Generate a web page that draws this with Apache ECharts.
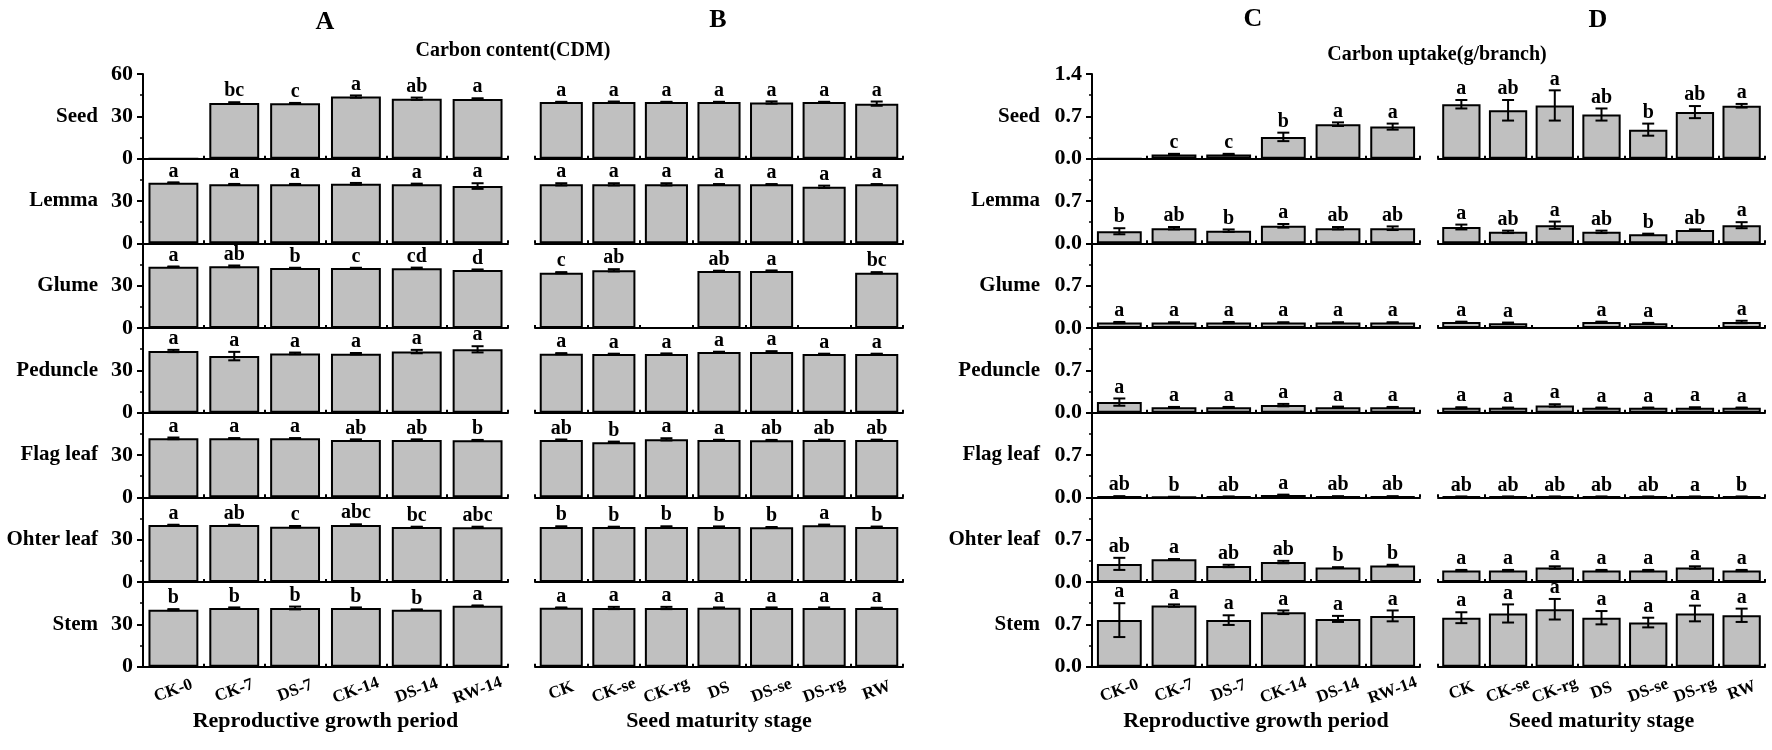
<!DOCTYPE html>
<html>
<head>
<meta charset="utf-8">
<script src="https://cdn.jsdelivr.net/npm/echarts@6/dist/echarts.min.js"></script>
<style>
html,body{margin:0;padding:0;background:#fff;}
#chart{width:1772px;height:750px;}
</style>
</head>
<body>
<div id="chart"></div>
<script>
// ---------------- data ----------------
const organs = ['Seed', 'Lemma', 'Glume', 'Peduncle', 'Flag leaf', 'Ohter leaf', 'Stem'];
const periodCats = ['CK-0', 'CK-7', 'DS-7', 'CK-14', 'DS-14', 'RW-14'];
const stageCats = ['CK', 'CK-se', 'CK-rg', 'DS', 'DS-se', 'DS-rg', 'RW'];
const contentTicks = [0, 30, 60];
const uptakeTicks = [0, 0.7, 1.4];

// A: carbon content, reproductive growth period
const contentPeriodMean = [
  [0, 39.5, 39.2, 44.0, 42.5, 42.3],
  [43.0, 41.8, 41.8, 42.2, 41.8, 40.6],
  [43.4, 43.7, 42.5, 42.5, 42.3, 41.1],
  [43.7, 40.1, 42.0, 41.8, 43.3, 44.9],
  [41.8, 41.8, 41.8, 40.7, 40.7, 40.5],
  [40.4, 40.4, 39.2, 40.4, 39.0, 38.8],
  [40.4, 41.6, 41.6, 41.6, 40.4, 43.2]
];
const contentPeriodErr = [
  [0, 0.5, 0.3, 0.8, 0.8, 0.5],
  [0.2, 0.3, 0.3, 0.6, 0.5, 2.0],
  [0.2, 0.6, 0.2, 0.2, 0.5, 0.4],
  [0.8, 3.0, 0.6, 0.5, 1.2, 2.2],
  [0.6, 0.2, 0.2, 0.4, 0.4, 0.2],
  [0.2, 0.2, 0.5, 0.5, 0.2, 0.4],
  [0.4, 0.4, 1.0, 0.4, 0.2, 0.2]
];
const contentPeriodLetters = [
  ['', 'bc', 'c', 'a', 'ab', 'a'],
  ['a', 'a', 'a', 'a', 'a', 'a'],
  ['a', 'ab', 'b', 'c', 'cd', 'd'],
  ['a', 'a', 'a', 'a', 'a', 'a'],
  ['a', 'a', 'a', 'ab', 'ab', 'b'],
  ['a', 'ab', 'c', 'abc', 'bc', 'abc'],
  ['b', 'b', 'b', 'b', 'b', 'a']
];

// B: carbon content, seed maturity stage
const contentStageMean = [
  [40.1, 40.1, 40.1, 40.1, 39.8, 40.1, 39.0],
  [41.8, 41.8, 41.8, 41.8, 41.8, 40.1, 41.8],
  [39.2, 40.9, 0, 40.4, 40.4, 0, 39.2],
  [41.8, 41.6, 41.6, 43.0, 43.0, 41.6, 41.6],
  [40.6, 39.0, 41.1, 40.6, 40.4, 40.6, 40.6],
  [39.0, 39.0, 39.0, 39.0, 38.8, 40.2, 39.0],
  [41.8, 41.6, 41.6, 41.8, 41.6, 41.6, 41.6]
];
const contentStageErr = [
  [0.2, 0.4, 0.2, 0.2, 0.8, 0.2, 1.5],
  [0.8, 0.8, 0.8, 0.2, 0.2, 0.8, 0.2],
  [0.4, 0.8, 0, 0.2, 0.4, 0, 0.4],
  [0.4, 0.2, 0.4, 0.2, 0.6, 0.2, 0.2],
  [0.4, 0.5, 0.8, 0.2, 0.3, 0.3, 0.3],
  [0.5, 0.2, 0.5, 0.4, 0.2, 0.5, 0.3],
  [0.2, 0.8, 0.8, 0.2, 0.4, 0.4, 0.2]
];
const contentStageLetters = [
  ['a', 'a', 'a', 'a', 'a', 'a', 'a'],
  ['a', 'a', 'a', 'a', 'a', 'a', 'a'],
  ['c', 'ab', '', 'ab', 'a', '', 'bc'],
  ['a', 'a', 'a', 'a', 'a', 'a', 'a'],
  ['ab', 'b', 'a', 'a', 'ab', 'ab', 'ab'],
  ['b', 'b', 'b', 'b', 'b', 'a', 'b'],
  ['a', 'a', 'a', 'a', 'a', 'a', 'a']
];

// C: carbon uptake, reproductive growth period
const uptakePeriodMean = [
  [0, 0.07, 0.07, 0.36, 0.57, 0.53],
  [0.20, 0.25, 0.21, 0.29, 0.25, 0.25],
  [0.09, 0.09, 0.09, 0.09, 0.09, 0.09],
  [0.175, 0.09, 0.09, 0.125, 0.09, 0.09],
  [0.01, 0.005, 0.01, 0.04, 0.01, 0.01],
  [0.30, 0.375, 0.265, 0.33, 0.24, 0.275],
  [0.77, 1.01, 0.77, 0.90, 0.79, 0.84]
];
const uptakePeriodErr = [
  [0, 0.01, 0.01, 0.07, 0.03, 0.05],
  [0.05, 0.02, 0.02, 0.03, 0.02, 0.03],
  [0.01, 0.005, 0.01, 0.005, 0.005, 0.005],
  [0.06, 0.005, 0.005, 0.02, 0.01, 0.005],
  [0.01, 0.005, 0.005, 0.005, 0.01, 0.01],
  [0.1, 0.005, 0.02, 0.02, 0.005, 0.01],
  [0.28, 0.02, 0.08, 0.03, 0.05, 0.09]
];
const uptakePeriodLetters = [
  ['', 'c', 'c', 'b', 'a', 'a'],
  ['b', 'ab', 'b', 'a', 'ab', 'ab'],
  ['a', 'a', 'a', 'a', 'a', 'a'],
  ['a', 'a', 'a', 'a', 'a', 'a'],
  ['ab', 'b', 'ab', 'a', 'ab', 'ab'],
  ['ab', 'a', 'ab', 'ab', 'b', 'b'],
  ['a', 'a', 'a', 'a', 'a', 'a']
];

// D: carbon uptake, seed maturity stage
const uptakeStageMean = [
  [0.90, 0.80, 0.88, 0.73, 0.48, 0.77, 0.875],
  [0.27, 0.19, 0.30, 0.19, 0.15, 0.22, 0.30],
  [0.10, 0.08, 0, 0.10, 0.08, 0, 0.10],
  [0.08, 0.08, 0.12, 0.08, 0.08, 0.08, 0.08],
  [0.01, 0.01, 0.01, 0.01, 0.01, 0.01, 0.01],
  [0.19, 0.19, 0.24, 0.19, 0.19, 0.24, 0.19],
  [0.81, 0.88, 0.95, 0.81, 0.73, 0.88, 0.85]
];
const uptakeStageErr = [
  [0.07, 0.17, 0.25, 0.1, 0.1, 0.1, 0.03],
  [0.04, 0.02, 0.06, 0.02, 0.01, 0.01, 0.05],
  [0.005, 0.01, 0, 0.005, 0.005, 0, 0.02],
  [0.01, 0.005, 0.02, 0.005, 0.005, 0.01, 0.005],
  [0.005, 0.005, 0.005, 0.005, 0.005, 0.005, 0.005],
  [0.01, 0.01, 0.02, 0.01, 0.01, 0.02, 0.01],
  [0.09, 0.15, 0.17, 0.11, 0.08, 0.13, 0.11]
];
const uptakeStageLetters = [
  ['a', 'ab', 'a', 'ab', 'b', 'ab', 'a'],
  ['a', 'ab', 'a', 'ab', 'b', 'ab', 'a'],
  ['a', 'a', '', 'a', 'a', '', 'a'],
  ['a', 'a', 'a', 'a', 'a', 'a', 'a'],
  ['ab', 'ab', 'ab', 'ab', 'ab', 'a', 'b'],
  ['a', 'a', 'a', 'a', 'a', 'a', 'a'],
  ['a', 'a', 'a', 'a', 'a', 'a', 'a']
];

// ---------------- layout ----------------
const FONT = '"Liberation Serif", "Times New Roman", serif';
const panels = [
  { left: 143, width: 365, cats: periodCats, mean: contentPeriodMean, err: contentPeriodErr, letters: contentPeriodLetters, ticks: contentTicks, showY: true, dec: 0, nameGap: 45, namePad: 22, xName: 'Reproductive growth period' },
  { left: 535, width: 368, cats: stageCats, mean: contentStageMean, err: contentStageErr, letters: contentStageLetters, ticks: contentTicks, showY: false, dec: 0, xName: 'Seed maturity stage' },
  { left: 1092, width: 328, cats: periodCats, mean: uptakePeriodMean, err: uptakePeriodErr, letters: uptakePeriodLetters, ticks: uptakeTicks, showY: true, dec: 1, nameGap: 52, namePad: 0, xName: 'Reproductive growth period' },
  { left: 1438, width: 327, cats: stageCats, mean: uptakeStageMean, err: uptakeStageErr, letters: uptakeStageLetters, ticks: uptakeTicks, showY: false, dec: 1, xName: 'Seed maturity stage' }
];
const ROW_TOP = 74, ROW_H = 84.67;

const grids = [], xAxes = [], yAxes = [], series = [];

function makeRender(letters) {
  return function (params, api) {
    const i = params.dataIndex;
    const m = api.value(1), e = api.value(2);
    const hi = api.coord([api.value(0), m + e]);
    const lo = api.coord([api.value(0), m - e]);
    const cx = hi[0];
    const cap = 6;
    const children = [];
    if (m > 0 && e > 0) {
      const ls = { stroke: '#000', lineWidth: 2 };
      children.push({ type: 'line', shape: { x1: cx, y1: hi[1], x2: cx, y2: lo[1] }, style: ls });
      children.push({ type: 'line', shape: { x1: cx - cap, y1: hi[1], x2: cx + cap, y2: hi[1] }, style: ls });
      children.push({ type: 'line', shape: { x1: cx - cap, y1: lo[1], x2: cx + cap, y2: lo[1] }, style: ls });
    }
    if (letters[i]) {
      children.push({
        type: 'text',
        style: { text: letters[i], x: cx, y: hi[1] - 1, align: 'center', verticalAlign: 'bottom',
                 font: 'bold 20px ' + FONT, fill: '#000' }
      });
    }
    return { type: 'group', children: children };
  };
}

panels.forEach(function (p, pi) {
  const yMax = p.ticks[p.ticks.length - 1];
  const yInt = p.ticks[1] - p.ticks[0];
  organs.forEach(function (org, r) {
    const idx = pi * organs.length + r;
    const last = r === organs.length - 1;
    grids.push({ left: p.left, width: p.width, top: ROW_TOP + r * ROW_H, height: ROW_H, outerBoundsMode: 'none' });
    xAxes.push({
      type: 'category', gridIndex: idx, data: p.cats,
      axisLine: { show: true, onZero: false, lineStyle: { color: '#000', width: 2 } },
      axisTick: { show: true, inside: true, length: 3, lineStyle: { color: '#000', width: 2 } },
      axisLabel: { show: last, interval: 0, rotate: 20, align: 'center', verticalAlign: 'middle', margin: 24,
                   color: '#000', fontFamily: FONT, fontWeight: 'bold', fontSize: 17 },
      name: last ? p.xName : '', nameLocation: 'middle', nameGap: 44,
      nameTextStyle: { color: '#000', fontFamily: FONT, fontWeight: 'bold', fontSize: 22 },
      splitLine: { show: false }
    });
    yAxes.push({
      type: 'value', gridIndex: idx, min: p.ticks[0], max: yMax, interval: yInt,
      show: p.showY,
      axisLine: { show: true, lineStyle: { color: '#000', width: 2 } },
      axisTick: { show: true, length: 6, lineStyle: { color: '#000', width: 2 } },
      minorTick: { show: true, splitNumber: 2, length: 3, lineStyle: { color: '#000', width: 1.5 } },
      splitLine: { show: false },
      minorSplitLine: { show: false },
      axisLabel: {
        color: '#000', fontFamily: FONT, fontWeight: 'bold', fontSize: 22, margin: 10,
        showMaxLabel: true,
        formatter: (function (row, mx, dec) {
          return function (v) {
            if (row > 0 && Math.abs(v - mx) < 1e-9) return '';
            return v.toFixed(dec);
          };
        })(r, yMax, p.dec)
      },
      name: p.showY ? org : '', nameLocation: 'middle', nameRotate: 0, nameGap: p.nameGap || 45,
      nameTextStyle: { color: '#000', fontFamily: FONT, fontWeight: 'bold', fontSize: 21,
                       align: 'right', verticalAlign: 'middle', padding: [0, 0, p.namePad || 0, 0] }
    });
    series.push({
      type: 'bar', xAxisIndex: idx, yAxisIndex: idx, data: p.mean[r],
      barCategoryGap: '18%',
      itemStyle: { color: '#c0c0c0', borderColor: '#000', borderWidth: 2 },
      emphasis: { disabled: true }, silent: true
    });
    series.push({
      type: 'custom', xAxisIndex: idx, yAxisIndex: idx, z: 5, clip: false,
      data: p.mean[r].map(function (m, i) { return [i, m, p.err[r][i]]; }),
      renderItem: makeRender(p.letters[r]), silent: true
    });
  });
});

const titleFont = 'bold 26px ' + FONT;
const subFont = 'bold 20px ' + FONT;
const graphics = [
  { type: 'text', x: 325, y: 22, style: { text: 'A', font: titleFont, align: 'center', verticalAlign: 'middle', fill: '#000' } },
  { type: 'text', x: 718, y: 20, style: { text: 'B', font: titleFont, align: 'center', verticalAlign: 'middle', fill: '#000' } },
  { type: 'text', x: 1253, y: 19, style: { text: 'C', font: titleFont, align: 'center', verticalAlign: 'middle', fill: '#000' } },
  { type: 'text', x: 1598, y: 20, style: { text: 'D', font: titleFont, align: 'center', verticalAlign: 'middle', fill: '#000' } },
  { type: 'text', x: 513, y: 51, style: { text: 'Carbon content(CDM)', font: subFont, align: 'center', verticalAlign: 'middle', fill: '#000' } },
  { type: 'text', x: 1437, y: 55, style: { text: 'Carbon uptake(g/branch)', font: subFont, align: 'center', verticalAlign: 'middle', fill: '#000' } }
];

const chart = echarts.init(document.getElementById('chart'), null, { renderer: 'canvas' });
chart.setOption({
  backgroundColor: '#fff',
  animation: false,
  textStyle: { fontFamily: FONT },
  grid: grids,
  xAxis: xAxes,
  yAxis: yAxes,
  series: series,
  graphic: graphics
});
</script>
</body>
</html>
